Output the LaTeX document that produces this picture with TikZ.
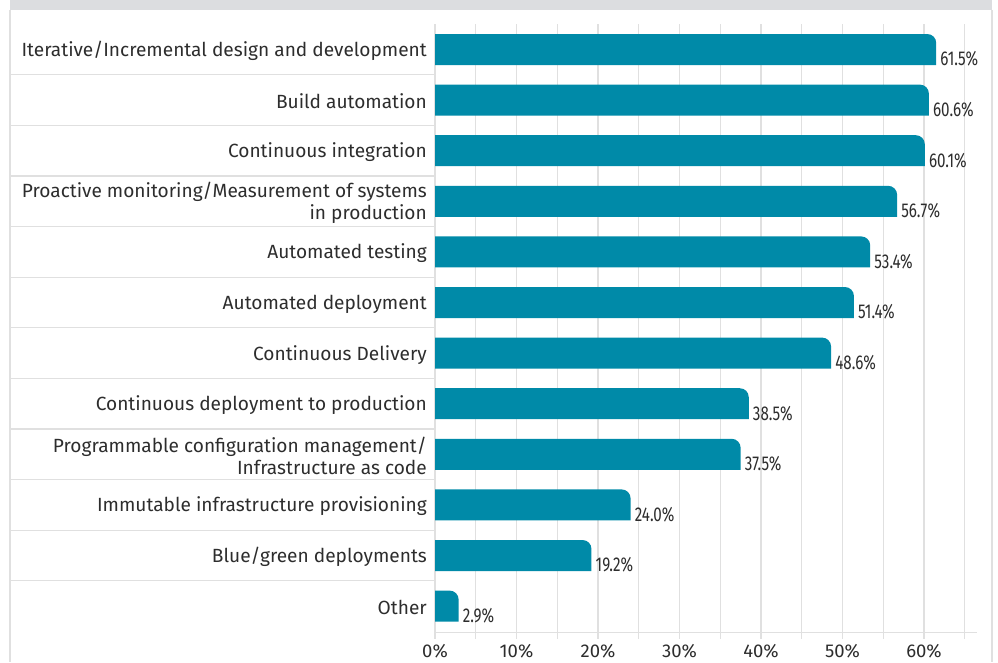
\documentclass[tikz,border=0pt]{standalone}
\usepackage{fontspec}
\setmainfont{Fira Sans}
\newfontfamily\condfont[FakeStretch=0.76]{Fira Sans}
\usetikzlibrary{positioning}
\definecolor{barteal}{RGB}{0,138,168}
\definecolor{gridgray}{RGB}{224,224,224}
\definecolor{bandgray}{RGB}{220,221,224}
\definecolor{textgray}{RGB}{45,45,45}

\tikzset{
  catlabel/.style={anchor=east, align=right, text=textgray, inner sep=0pt,
    font=\fontsize{19.1}{21.5}\selectfont},
  vallabel/.style={anchor=west, text=textgray, inner sep=0pt,
    font=\condfont\fontsize{20}{22}\selectfont},
  axislabel/.style={text=textgray, inner sep=0pt,
    font=\fontsize{18.5}{21.5}\selectfont},
  gridline/.style={gridgray, line width=1.3pt},
}

% one row: name, centre y, label, value
\newcommand{\surveyrow}[4]{
  \fill[barteal] (435,#2+15.5) -- (435,#2-15.5) -- ({435+8.15*#4-9},#2-15.5)
    .. controls ({435+8.15*#4-4},#2-15.5) and ({435+8.15*#4},#2-11.5) .. ({435+8.15*#4},#2-6.5)
    -- ({435+8.15*#4},#2+15.5) -- cycle;
  \node[catlabel] (cat#1) at (427,#2+1.5) {#3};
  \node[vallabel] (val#1) at ({439+8.15*#4},#2+9.5) {#4\%};
}

\begin{document}
\begin{tikzpicture}[x=1pt, y=-1pt]
\useasboundingbox (0,0) rectangle (998,662);

% Frame
\fill[bandgray] (10,0) rectangle (992,9.5);
\draw[gridline] (10,9.5) -- (10,662);
\draw[gridline] (992,9.5) -- (992,662);

% Grid and axis
\foreach \k in {0,...,13}
  \draw[gridline] ({435+40.75*\k},24) -- ({435+40.75*\k},639);
\draw[gridline] (435,632.5) -- (977,632.5);
\foreach \k/\pct in {0/0,1/10,2/20,3/30,4/40,5/50,6/60}
  \node[axislabel] (tick\k) at ({435+81.5*\k},651) {\pct\%};

% Row separators
\foreach \i in {0,...,10}
  \draw[gridline] (10,{74.8+50.6*\i}) -- (435,{74.8+50.6*\i});

% Bars
\surveyrow{iter}{49.5}{Iterative/Incremental design and development}{61.5}
\surveyrow{build}{100.1}{Build automation}{60.6}
\surveyrow{ci}{150.7}{Continuous integration}{60.1}
\surveyrow{monit}{201.3}{Proactive monitoring/Measurement of systems\\in production}{56.7}
\surveyrow{test}{251.9}{Automated testing}{53.4}
\surveyrow{deploy}{302.5}{Automated deployment}{51.4}
\surveyrow{cd}{353.1}{Continuous Delivery}{48.6}
\surveyrow{cdprod}{403.7}{Continuous deployment to production}{38.5}
\surveyrow{iac}{454.3}{Programmable configuration management/\\Infrastructure as code}{37.5}
\surveyrow{immut}{504.9}{Immutable infrastructure provisioning}{24.0}
\surveyrow{bluegreen}{555.5}{Blue/green deployments}{19.2}
\surveyrow{other}{606.1}{Other}{2.9}
\end{tikzpicture}
\end{document}
